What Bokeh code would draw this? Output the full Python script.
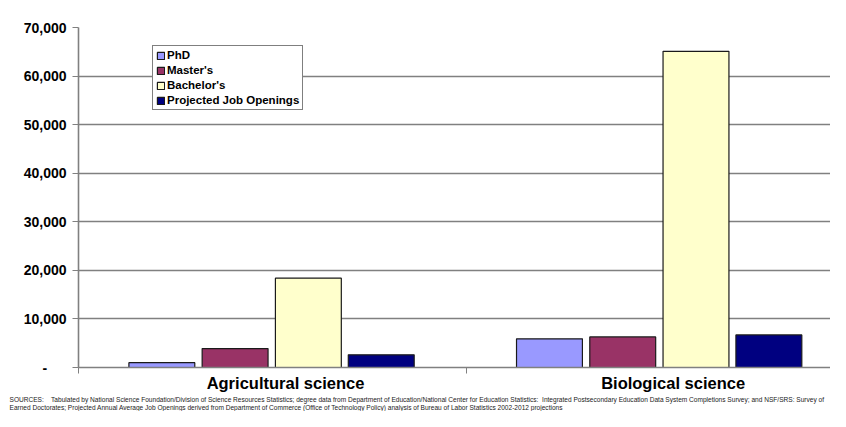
from bokeh.plotting import figure
from bokeh.models import (ColumnDataSource, FixedTicker, Legend, LegendItem, Title,
                          NumeralTickFormatter, Range1d)
from bokeh.embed import file_html
from bokeh.resources import INLINE

categories = ["Agricultural science", "Biological science"]
series = ["PhD", "Master's", "Bachelor's", "Projected Job Openings"]
phd = [1000, 5900]
masters = [3900, 6300]
bachelors = [18400, 65100]
jobs = [2600, 6700]
y_ticks = [0, 10000, 20000, 30000, 40000, 50000, 60000, 70000]
NB = "\u00a0"
sources_1 = ("SOURCES:" + NB * 4 + "Tabulated by National Science Foundation/Division of Science Resources Statistics; degree data from "
             "Department of Education/National Center for Education Statistics:" + NB + " Integrated Postsecondary Education Data System "
             "Completions Survey; and NSF/SRS: Survey of")
sources_2 = ("Earned Doctorates; Projected Annual Average Job Openings derived from Department of Commerce (Office of Technology "
             "Policy) analysis of Bureau of Labor Statistics 2002-2012 projections")

colors = ["#9999FF", "#993366", "#FFFFCC", "#000080"]
values = [phd, masters, bachelors, jobs]
offsets = [-0.285, -0.096, 0.093, 0.281]
bar_w = 0.17
label_shift = 0.034

FONT = "Liberation Sans"

p = figure(width=830, height=411, output_backend="svg", toolbar_location=None,
           x_range=Range1d(0, 1.94), y_range=Range1d(0, 70000),
           min_border_left=78, min_border_right=0, min_border_top=27, min_border_bottom=0)
p.outline_line_color = None
p.xgrid.visible = False
p.ygrid.grid_line_color = "#808080"
p.ygrid.grid_line_width = 1.6
p.ygrid.ticker = FixedTicker(ticks=y_ticks)

items = []
for name, vals, col, off in zip(series, values, colors, offsets):
    xs = [i + 0.5 + off for i in range(len(categories))]
    src = ColumnDataSource(dict(x=xs, top=vals))
    r = p.vbar(x="x", top="top", width=bar_w, bottom=0, source=src,
               fill_color=col, line_color="#1a1a1a", line_width=1.2)
    items.append(LegendItem(label=name, renderers=[r]))

# y axis
p.yaxis.ticker = FixedTicker(ticks=y_ticks)
p.yaxis.formatter = NumeralTickFormatter(format="0,0")
p.yaxis.major_label_overrides = {0: "-" + NB * 5}
p.yaxis.major_label_text_font = FONT
p.yaxis.major_label_text_font_style = "bold"
p.yaxis.major_label_text_font_size = "14px"
p.yaxis.major_label_text_color = "black"
p.yaxis.axis_line_color = "#808080"
p.yaxis.axis_line_width = 1.6
p.yaxis.major_tick_line_color = "#808080"
p.yaxis.major_tick_out = 6
p.yaxis.major_tick_in = 0
p.yaxis.minor_tick_line_color = None
p.yaxis.major_label_standoff = 6

# x axis
label_pos = [i + 0.5 + label_shift for i in range(len(categories))]
p.xaxis.ticker = FixedTicker(ticks=label_pos, minor_ticks=[0, 1, 2])
p.xaxis.major_label_overrides = {x: c for x, c in zip(label_pos, categories)}
p.xaxis.major_label_text_font = FONT
p.xaxis.major_label_text_font_style = "bold"
p.xaxis.major_label_text_font_size = "16.5px"
p.xaxis.major_label_text_color = "black"
p.xaxis.major_tick_line_color = None
p.xaxis.major_tick_out = 0
p.xaxis.minor_tick_line_color = "#808080"
p.xaxis.minor_tick_out = 6
p.xaxis.minor_tick_in = 0
p.xaxis.axis_line_color = "#808080"
p.xaxis.axis_line_width = 1.6
p.xaxis.major_label_standoff = 0
p.xaxis.axis_label_standoff = 0

legend = Legend(items=items, location=(74, 257), orientation="vertical",
                label_text_font=FONT, label_text_font_style="bold",
                label_text_font_size="11.5px", label_text_color="black",
                label_height=12, label_standoff=2, glyph_height=9, glyph_width=9,
                spacing=3, padding=3, margin=0,
                border_line_color="black", border_line_width=1,
                background_fill_color="white", background_fill_alpha=1)
p.add_layout(legend, "center")

t = Title(text=sources_1 + "\n" + sources_2, align="left", offset=-69, text_font=FONT,
          text_font_size="6.57px", text_font_style="normal", text_color="#222222",
          text_line_height=1.15, standoff=0)
p.add_layout(t, "below")

open("out.html", "w").write(file_html(p, INLINE))
